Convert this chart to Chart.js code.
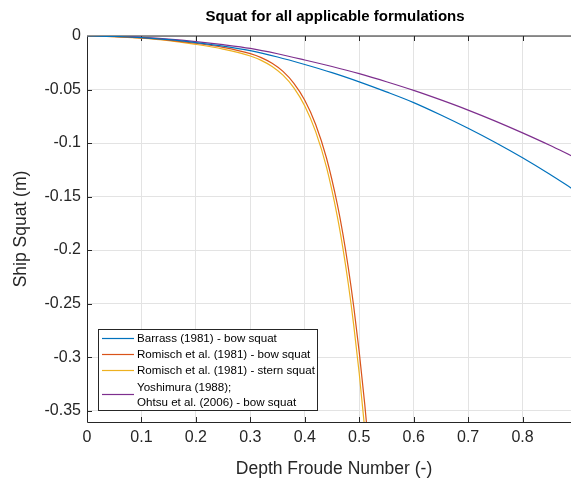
<!DOCTYPE html>
<html>
<head>
<meta charset="utf-8">
<script src="https://cdn.jsdelivr.net/npm/chart.js@4.4.1/dist/chart.umd.min.js"></script>
<style>
  html, body { margin: 0; padding: 0; background: #fff; }
  #wrap { width: 571px; height: 482px; }
</style>
</head>
<body>
<div id="wrap"><canvas id="squatChart"></canvas></div>
<script>
// depth Froude number grid for the smooth formulations
const froude = [0, 0.05, 0.1, 0.15, 0.2, 0.25, 0.3, 0.35, 0.4, 0.45, 0.5, 0.55, 0.6, 0.65, 0.7, 0.75, 0.8, 0.85, 0.89];
const barrassBow = [0, -0.0004, -0.0015, -0.0034, -0.0061, -0.0094, -0.0137, -0.0196, -0.0266, -0.0342, -0.0428, -0.0522, -0.0622, -0.0738, -0.0862, -0.0995, -0.1138, -0.1292, -0.1423];
const yoshimuraBow = [0, -0.0003, -0.0013, -0.0029, -0.0052, -0.0081, -0.0116, -0.0166, -0.0224, -0.0285, -0.0352, -0.0427, -0.0508, -0.0597, -0.0692, -0.0795, -0.0905, -0.1021, -0.1120];

// Romisch blows up near the critical speed, so denser sampling there
const romischFh = [0, 0.05, 0.1, 0.15, 0.2, 0.25, 0.3, 0.32, 0.34, 0.36, 0.38, 0.4, 0.42, 0.44, 0.46, 0.47, 0.48, 0.49, 0.5, 0.51, 0.52];
const romischBow = [0, -0.0006, -0.0018, -0.0038, -0.0068, -0.0106, -0.0165, -0.0202, -0.0255, -0.0331, -0.0442, -0.0600, -0.0826, -0.1142, -0.1577, -0.1849, -0.2166, -0.2530, -0.2951, -0.3432, -0.3983];
const romischStern = [0, -0.0006, -0.0021, -0.0044, -0.0078, -0.0122, -0.0187, -0.0228, -0.0285, -0.0366, -0.0484, -0.0653, -0.0893, -0.1228, -0.1691, -0.1981, -0.2317, -0.2705, -0.3151, -0.3665, -0.4253];

const xTicks = [0, 0.1, 0.2, 0.3, 0.4, 0.5, 0.6, 0.7, 0.8];
const yTicks = [0, -0.05, -0.1, -0.15, -0.2, -0.25, -0.3, -0.35];

const seriesNames = [
  ['Barrass (1981) - bow squat'],
  ['Romisch et al. (1981) - bow squat'],
  ['Romisch et al. (1981) - stern squat'],
  ['Yoshimura (1988);', 'Ohtsu et al. (2006) - bow squat']
];
const colors = ['#0072BD', '#D95319', '#EDB120', '#7E2F8E'];

const FONT = '"Liberation Sans", Arial, Helvetica, sans-serif';
const AXIS = '#262626';

function pts(xs, ys) {
  return xs.map((x, i) => ({ x: x, y: ys[i] }));
}

function lineSet(label, data, color) {
  return {
    label: label,
    data: data,
    borderColor: color,
    backgroundColor: color,
    borderWidth: 1.2,
    pointRadius: 0,
    cubicInterpolationMode: 'monotone',
    fill: false
  };
}

// MATLAB-like box with inward ticks, title and axis labels
const axesBox = {
  id: 'axesBox',
  beforeDatasetsDraw(chart) {
    const { ctx, chartArea: a, scales } = chart;
    ctx.save();
    ctx.strokeStyle = AXIS;
    ctx.lineWidth = 1;
    ctx.beginPath();
    ctx.moveTo(a.left + 0.5, a.top);
    ctx.lineTo(a.left + 0.5, a.bottom + 0.5);
    ctx.lineTo(a.right, a.bottom + 0.5);
    ctx.moveTo(a.left, a.top);
    ctx.lineTo(a.right, a.top);
    xTicks.forEach(v => {
      const px = Math.round(scales.x.getPixelForValue(v)) + 0.5;
      ctx.moveTo(px, a.bottom);
      ctx.lineTo(px, a.bottom - 5);
      ctx.moveTo(px, a.top);
      ctx.lineTo(px, a.top + 5);
    });
    yTicks.forEach(v => {
      const py = Math.round(scales.y.getPixelForValue(v)) + 0.5;
      ctx.moveTo(a.left, py);
      ctx.lineTo(a.left + 5, py);
    });
    ctx.stroke();
    ctx.restore();
  },
  afterDraw(chart) {
    const { ctx } = chart;
    ctx.save();
    ctx.fillStyle = '#000';
    ctx.textAlign = 'center';
    ctx.textBaseline = 'alphabetic';
    ctx.font = 'bold 15px ' + FONT;
    ctx.fillText('Squat for all applicable formulations', 335, 21);
    ctx.fillStyle = AXIS;
    ctx.font = '17.5px ' + FONT;
    ctx.fillText('Depth Froude Number (-)', 334, 474);
    ctx.translate(25.5, 229);
    ctx.rotate(-Math.PI / 2);
    ctx.fillText('Ship Squat (m)', 0, 0);
    ctx.restore();

    // legend box
    ctx.save();
    ctx.fillStyle = '#fff';
    ctx.fillRect(98, 329, 219, 81);
    ctx.strokeStyle = AXIS;
    ctx.lineWidth = 1;
    ctx.strokeRect(98.5, 329.5, 219, 81);
    ctx.font = '11.6px ' + FONT;
    ctx.textAlign = 'left';
    ctx.textBaseline = 'middle';
    ctx.fillStyle = '#000';
    const rows = [[338.5], [354.5], [370.5], [387.5, 402.5]];
    const sampleY = [338.5, 354.5, 370.5, 394.5];
    seriesNames.forEach((lines, i) => {
      ctx.strokeStyle = colors[i];
      ctx.lineWidth = 1.2;
      ctx.beginPath();
      ctx.moveTo(102, sampleY[i]);
      ctx.lineTo(134, sampleY[i]);
      ctx.stroke();
      lines.forEach((t, j) => ctx.fillText(t, 137, rows[i][j]));
    });
    ctx.restore();
  }
};

function ui_squat() {
  const ctx = document.getElementById('squatChart');
  const data = {
    datasets: [
      lineSet(seriesNames[0].join(' '), pts(froude, barrassBow), colors[0]),
      lineSet(seriesNames[1].join(' '), pts(romischFh, romischBow), colors[1]),
      lineSet(seriesNames[2].join(' '), pts(romischFh, romischStern), colors[2]),
      lineSet(seriesNames[3].join(' '), pts(froude, yoshimuraBow), colors[3])
    ]
  };
  const option = {
    responsive: true,
    maintainAspectRatio: false,
    animation: false,
    layout: { padding: { top: 36, right: 0, left: 0, bottom: 0 } },
    plugins: {
      legend: { display: false },
      title: { display: false },
      tooltip: { enabled: false }
    },
    scales: {
      x: {
        type: 'linear',
        min: 0,
        max: 0.889,
        afterBuildTicks: s => { s.ticks = xTicks.map(v => ({ value: v })); },
        afterFit: s => { s.height = 60; },
        grid: { color: '#e3e3e3', drawTicks: false },
        border: { display: false },
        ticks: {
          padding: 6,
          color: AXIS,
          font: { family: FONT, size: 16 },
          maxRotation: 0,
          callback: v => String(+v.toFixed(1))
        }
      },
      y: {
        type: 'linear',
        min: -0.3606,
        max: 0,
        afterBuildTicks: s => { s.ticks = yTicks.map(v => ({ value: v })); },
        afterFit: s => { s.width = 87; },
        grid: { color: '#e3e3e3', drawTicks: false },
        border: { display: false },
        ticks: {
          padding: 6,
          color: AXIS,
          font: { family: FONT, size: 16 },
          callback: v => String(+v.toFixed(2))
        }
      }
    }
  };
  new Chart(ctx, {
    type: 'line',
    data: data,
    options: option,
    plugins: [axesBox]
  });
}
ui_squat();
</script>
</body>
</html>
